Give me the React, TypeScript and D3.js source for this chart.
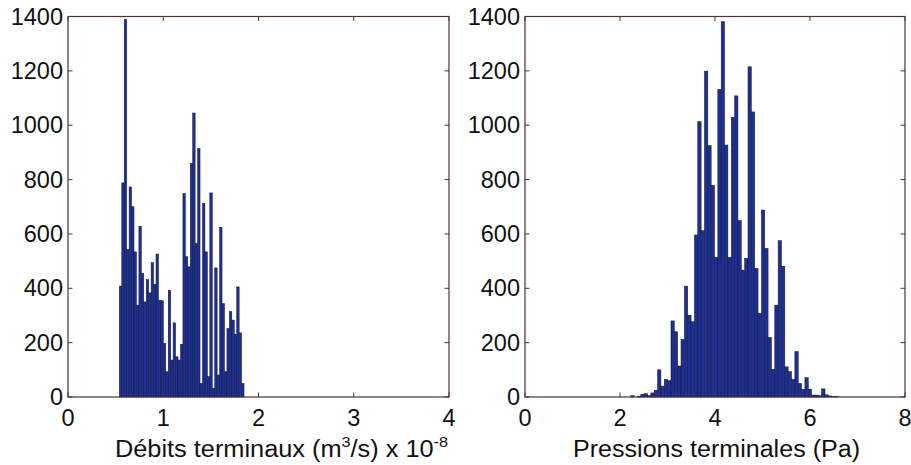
import React from 'react';
import * as d3 from 'd3';

// Left histogram: terminal flow rates (x 1e-8 m^3/s)
const leftCounts = [
  408, 788, 1390, 543, 773, 700, 534, 338, 628, 455, 350, 432, 383, 494, 415, 526,
  356, 354, 197, 93, 393, 136, 273, 148, 136, 194,
  749, 516, 479, 859, 1045, 565, 914, 50, 712, 534, 75, 751, 32, 475, 81, 624,
  344, 93, 252, 314, 283, 231, 405, 236, 50,
];
const leftStart = 0.539;
const leftBinWidth = 0.02567;

// Right histogram: terminal pressures (Pa)
const rightCounts = [
  5, 0, 3, 10, 12, 5, 15, 25, 100, 40, 65, 60,
  280, 240, 114, 212, 408, 301, 277, 596, 1013, 612, 1199, 925, 779, 514, 1132,
  1381, 927, 514, 1029, 1108, 649, 467, 510, 1215, 1049, 473, 308, 688, 547, 219,
  102, 338, 575, 481, 111, 93, 65, 167, 50, 28, 71, 29, 7,
  7, 5, 30, 8, 4, 2, 1,
];
const rightStart = 2.227;
const rightBinWidth = 0.0705;

const yTicks = [0, 200, 400, 600, 800, 1000, 1200, 1400];
const leftXTicks = [0, 1, 2, 3, 4];
const rightXTicks = [0, 2, 4, 6, 8];

const FONT = "'Liberation Sans', Arial, Helvetica, sans-serif";
const AXIS = '#4a3632';
const TEXT = '#111111';
const BAR = '#20308f';
const EDGE = '#0c1248';

const TOP = 16.5;
const BOTTOM = 397;

type PanelProps = {
  left: number;
  right: number;
  xDomain: [number, number];
  xTicks: number[];
  counts: number[];
  start: number;
  binWidth: number;
  title: React.ReactNode;
  titleLength: number;
  titleX: number;
};

function Panel({ left, right, xDomain, xTicks, counts, start, binWidth, title, titleLength, titleX }: PanelProps) {
  const x = d3.scaleLinear().domain(xDomain).range([left, right]);
  const y = d3.scaleLinear().domain([0, 1400]).range([BOTTOM, TOP]);
  const tick = 4.5;
  return (
    <g>
      {counts.map((c, i) => {
        const x0 = x(start + i * binWidth);
        const x1 = x(start + (i + 1) * binWidth);
        if (c <= 0) return null;
        return (
          <rect
            key={i}
            x={x0}
            y={y(c)}
            width={x1 - x0}
            height={y(0) - y(c)}
            fill={BAR}
            stroke={EDGE}
            strokeWidth={0.5}
          />
        );
      })}
      <rect x={left} y={TOP} width={right - left} height={BOTTOM - TOP} fill="none" stroke={AXIS} strokeWidth={1.2} />
      {yTicks.map((t) => (
        <g key={'y' + t}>
          <line x1={left} x2={left + tick} y1={y(t)} y2={y(t)} stroke={AXIS} strokeWidth={1} />
          <line x1={right} x2={right - tick} y1={y(t)} y2={y(t)} stroke={AXIS} strokeWidth={1} />
          <text
            x={left - 5}
            y={y(t)}
            textAnchor="end"
            dominantBaseline="central"
            fontFamily={FONT}
            fontSize={23.5}
            fill={TEXT}
          >
            {t}
          </text>
        </g>
      ))}
      {xTicks.map((t) => (
        <g key={'x' + t}>
          <line x1={x(t)} x2={x(t)} y1={BOTTOM} y2={BOTTOM - tick} stroke={AXIS} strokeWidth={1} />
          <line x1={x(t)} x2={x(t)} y1={TOP} y2={TOP + tick} stroke={AXIS} strokeWidth={1} />
          <text
            x={x(t)}
            y={418}
            textAnchor="middle"
            dominantBaseline="central"
            fontFamily={FONT}
            fontSize={23.5}
            fill={TEXT}
          >
            {t}
          </text>
        </g>
      ))}
      <text
        x={titleX}
        y={457}
        textAnchor="middle"
        fontFamily={FONT}
        fontSize={23.5}
        fill={TEXT}
        textLength={titleLength}
        lengthAdjust="spacingAndGlyphs"
      >
        {title}
      </text>
    </g>
  );
}

export default function App() {
  return (
    <svg
      width={911}
      height={465}
      style={{ position: 'absolute', left: 0, top: 0, background: '#ffffff' }}
    >
      <rect x={0} y={0} width={911} height={465} fill="#ffffff" />
      <Panel
        left={68}
        right={449}
        xDomain={[0, 4]}
        xTicks={leftXTicks}
        counts={leftCounts}
        start={leftStart}
        binWidth={leftBinWidth}
        titleX={281.5}
        titleLength={333}
        title={
          <>
            <tspan>Débits terminaux (m</tspan>
            <tspan fontSize={15} dy={-10}>3</tspan>
            <tspan dy={10}>/s) x 10</tspan>
            <tspan fontSize={15} dy={-10}>-8</tspan>
          </>
        }
      />
      <Panel
        left={525}
        right={905}
        xDomain={[0, 8]}
        xTicks={rightXTicks}
        counts={rightCounts}
        start={rightStart}
        binWidth={rightBinWidth}
        titleX={716.5}
        titleLength={287}
        title="Pressions terminales (Pa)"
      />
    </svg>
  );
}
